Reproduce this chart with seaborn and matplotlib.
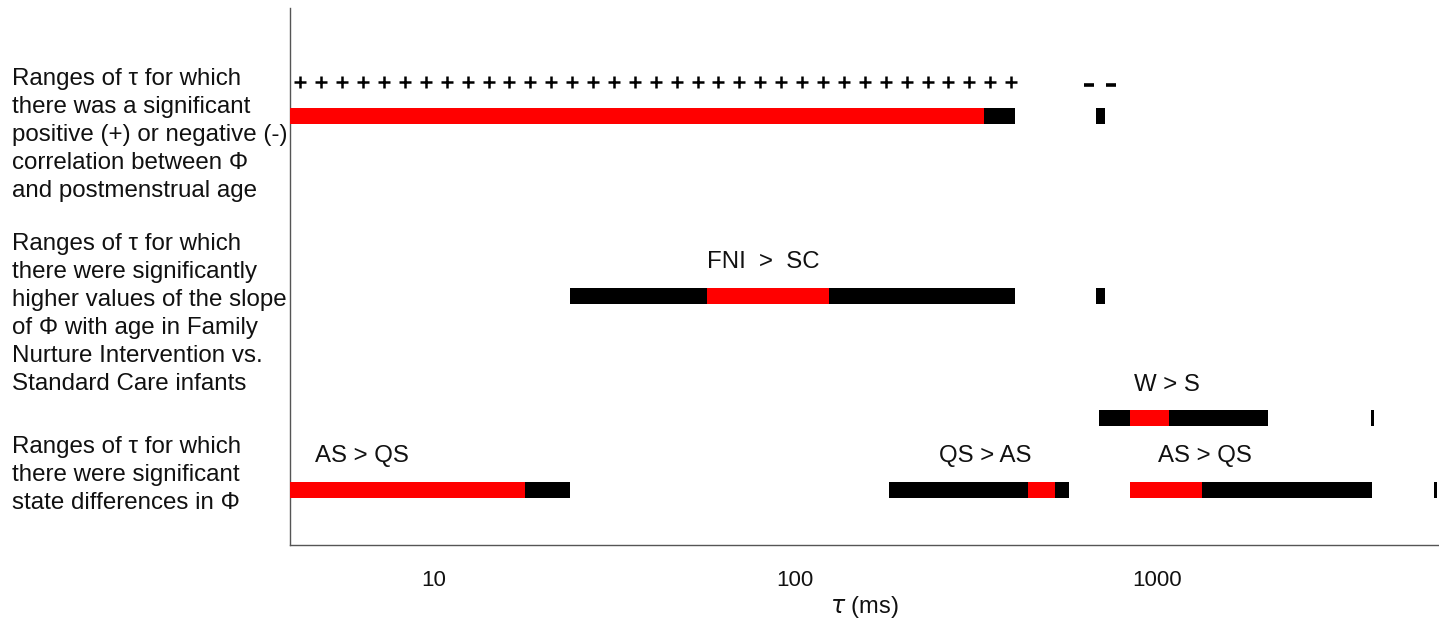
import matplotlib
matplotlib.use("Agg")
import matplotlib.pyplot as plt
import pandas as pd
import seaborn as sns

# ---------------- data (tau in ms) ----------------
plus_tau = [4.27, 4.88, 5.58, 6.37, 7.28, 8.32, 9.50, 10.85, 12.40, 14.17,
            16.19, 18.49, 21.13, 24.13, 27.57, 31.50, 35.98, 41.11, 46.97, 53.66,
            61.30, 70.03, 80.01, 91.42, 104.4, 119.3, 136.3, 155.7, 177.9, 203.3,
            232.2, 265.3, 303.1, 346.3, 395.7]
minus_tau = [649, 747]

# segments: start, end, colour
corr_start = [4.0, 332.6, 679]
corr_end = [332.6, 405, 719]
corr_col = ["red", "black", "black"]

fni_start = [23.8, 56.9, 123.9, 679]
fni_end = [56.9, 123.9, 405, 719]
fni_col = ["black", "red", "black", "black"]

ws_start = [694, 845.6, 1084, 3912]
ws_end = [845.6, 1084, 2030, 3987]
ws_col = ["black", "red", "black", "black"]

state_start = [4.0, 17.9, 181.6, 441, 523.6, 845.6, 1330, 5844]
state_end = [17.9, 23.8, 441, 523.6, 572.5, 1330, 3930, 5956]
state_col = ["red", "black", "black", "red", "black", "red", "black", "black"]

annot_text = ["FNI  >  SC", "W > S", "AS > QS", "QS > AS", "AS > QS"]
annot_tau = [81.6, 1067, 6.33, 335, 1359]

row_labels = [
    "Ranges of \u03c4 for which\nthere was a significant\npositive (+) or negative (-)\ncorrelation between \u03a6\nand postmenstrual age",
    "Ranges of \u03c4 for which\nthere were significantly\nhigher values of the slope\nof \u03a6 with age in Family\nNurture Intervention vs.\nStandard Care infants",
    "Ranges of \u03c4 for which\nthere were significant\nstate differences in \u03a6",
]
xtick_vals = [10, 100, 1000]
xtick_labels = ["10", "100", "1000"]

# ---------------- layout ----------------
W, H = 1439, 619
sns.set_theme(style="white")
plt.rcParams["font.family"] = ["Liberation Sans", "DejaVu Sans"]

fig = plt.figure(figsize=(W / 100, H / 100), dpi=100)
ax = fig.add_axes([290 / W, (H - 545) / H, 1148 / W, 537 / H])
ax.set_xscale("log")
ax.set_xlim(4, 6000)
ax.set_ylim(545, 8)

row_y = {"corr": 116, "fni": 296, "ws": 418, "state": 490}
bar_h = 16

segs = []
for key, st, en, co in [("corr", corr_start, corr_end, corr_col),
                        ("fni", fni_start, fni_end, fni_col),
                        ("ws", ws_start, ws_end, ws_col),
                        ("state", state_start, state_end, state_col)]:
    for s, e, c in zip(st, en, co):
        segs.append({"row": key, "start": s, "end": e, "color": c})
df = pd.DataFrame(segs)
colmap = {"red": "#ff0000", "black": "#000000"}
for _, r in df.iterrows():
    ax.barh(row_y[r["row"]], r["end"] - r["start"], left=r["start"], height=bar_h,
            color=colmap[r["color"]], edgecolor="none", zorder=3)

sns.scatterplot(x=plus_tau, y=[82] * len(plus_tau), marker="+", s=68, color="black",
                linewidth=1.8, ax=ax, zorder=4, legend=False)
sns.scatterplot(x=minus_tau, y=[85] * len(minus_tau), marker="_", s=45, color="black",
                linewidth=2.6, ax=ax, zorder=4, legend=False)

annot_y = [262, 385, 456, 456, 456]
for t, xv, yv in zip(annot_text, annot_tau, annot_y):
    ax.text(xv, yv, t, ha="center", va="center", fontsize=17.3, color="#111111")

# left labels
label_centers = [135, 314, 475]
for txt, yc in zip(row_labels, label_centers):
    fig.text(12 / W, 1 - yc / H, txt, ha="left", va="center", fontsize=17.4,
             linespacing=1.36, color="#111111")

# axes styling
for side in ["top", "right"]:
    ax.spines[side].set_visible(False)
for side in ["left", "bottom"]:
    ax.spines[side].set_color("#555555")
    ax.spines[side].set_linewidth(1.0)

ax.set_xticks(xtick_vals)
ax.set_xticklabels(xtick_labels)
ax.xaxis.set_minor_locator(matplotlib.ticker.NullLocator())
ax.set_yticks([296, 474])
ax.set_yticklabels(["", ""])
ax.tick_params(axis="both", which="major", direction="in", length=7, width=0.8,
               color="#555555", labelsize=16, labelcolor="#111111", pad=18)
ax.tick_params(axis="y", pad=2)
ax.set_xlabel(r"$\tau$ (ms)", fontsize=17, labelpad=2, color="#111111")
ax.set_ylabel("")
ax.grid(False)

fig.savefig("out.png", dpi=100)
